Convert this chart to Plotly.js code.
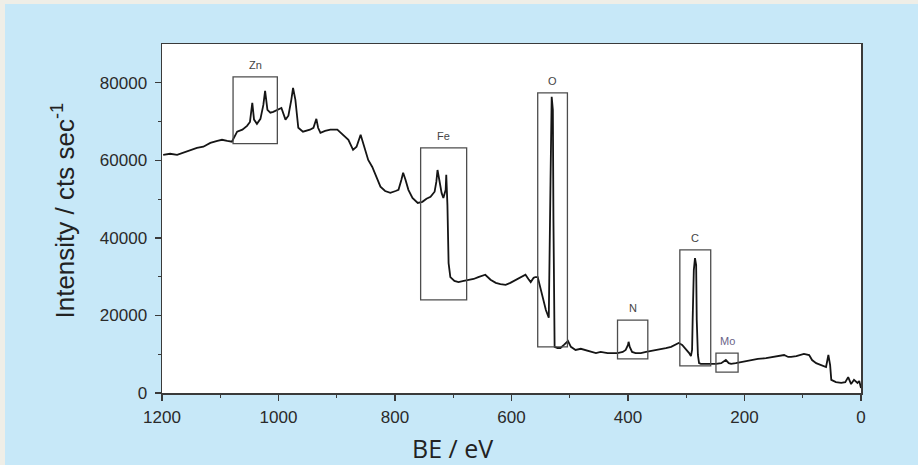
<!DOCTYPE html>
<html>
<head>
<meta charset="utf-8">
<script src="https://cdn.plot.ly/plotly-3.0.1.min.js"></script>
<style>
  html, body { margin: 0; padding: 0; background: #EFEEE7; width: 918px; height: 465px; overflow: hidden; }
  #chart { position: absolute; left: 5px; top: 4px; width: 913px; height: 461px; }
</style>
</head>
<body>
<div id="chart"></div>
<script>
// Binding energy (eV) and intensity (cts/sec)
const bindingEnergy = [
  1198, 1186, 1174, 1164, 1152, 1140, 1129, 1117, 1105, 1097, 1088, 1080, 1071, 1062, 1054, 1049,
  1045, 1042, 1037, 1031, 1026, 1023, 1019, 1014, 1009, 1001, 995, 988, 983, 978, 975, 971,
  966, 958, 946, 940, 935, 932, 928, 920, 911, 899, 889, 880, 872, 866, 859, 854,
  851, 846, 839, 832, 825, 817, 808, 799, 794, 789, 786, 782, 777, 770, 761, 753,
  746, 739, 732, 729, 727, 724, 720, 717, 713, 712, 710, 708, 705, 698, 691, 682,
  674, 665, 657, 650, 645, 636, 627, 619, 610, 602, 593, 584, 576, 571, 567, 562,
  559, 555, 550, 545, 541, 536, 534, 533, 531, 529, 528, 526, 521, 516, 510, 503,
  498, 490, 481, 473, 464, 455, 447, 435, 426, 418, 409, 404, 400, 399, 397, 393,
  387, 378, 369, 361, 352, 344, 335, 326, 318, 313, 307, 302, 295, 292, 290, 289,
  287, 285, 283, 282, 280, 278, 275, 266, 258, 249, 240, 235, 232, 227, 223, 215,
  206, 197, 189, 177, 163, 149, 141, 132, 125, 120, 111, 103, 98, 89, 84, 77,
  68, 60, 56, 53, 51, 43, 34, 27, 22, 17, 12, 6, 3, 0
];
const intensity = [
  61400, 61700, 61400, 61900, 62500, 63200, 63500, 64500, 65000, 65300, 65000, 64800, 67400, 67900, 68900, 69900,
  74800, 70500, 69400, 70700, 74300, 77900, 73000, 72300, 72500, 73000, 73500, 70500, 71500, 75600, 78700, 75600,
  68400, 67400, 67900, 68400, 70700, 68400, 67100, 67600, 67900, 67900, 66600, 65300, 62700, 63500, 66600, 64000,
  62200, 60100, 58300, 55500, 53200, 52100, 51600, 52100, 52400, 55000, 56800, 55000, 52400, 50300, 49000, 49300,
  50100, 50600, 51900, 54500, 57500, 55000, 51600, 50300, 52400, 56300, 48500, 33500, 29900, 28900, 28600, 28900,
  29200, 29400, 29900, 30200, 30500, 29200, 28400, 28100, 27900, 28400, 29200, 29900, 30500, 29400, 28600, 29700,
  29900, 29900, 26600, 23500, 21400, 19400, 36900, 55000, 76400, 73000, 44600, 11900, 11600, 11600, 12400, 13400,
  11900, 11100, 11400, 11100, 10600, 10300, 10600, 10300, 10300, 10300, 10600, 11100, 12400, 13200, 11900, 10600,
  10300, 10300, 10600, 10800, 11100, 11400, 11600, 11900, 12400, 12900, 12400, 11600, 10300, 9500, 11100, 18800,
  31700, 34800, 33000, 18800, 9800, 7700, 7500, 7500, 7500, 7500, 7700, 8300, 8500, 7700, 7500, 7700,
  8000, 8300, 8500, 8800, 9000, 9300, 9500, 9800, 9300, 9300, 9500, 9800, 10100, 9800, 8500, 7700,
  7200, 6700, 9800, 7200, 3400, 2800, 2600, 2800, 4100, 2300, 3400, 2600, 3100, 1300
];

// Highlighted element regions: BE span (eV) and intensity span (cts/sec)
const elements = ["Zn", "Fe", "O", "N", "C", "Mo"];
const regionBEHigh = [1078, 756, 555, 418, 311, 249];
const regionBELow  = [1002, 677, 504, 366, 258, 211];
const regionIntTop = [81500, 63200, 77400, 18800, 36900, 10300];
const regionIntBottom = [64300, 24000, 11900, 8800, 7000, 5400];
const labelColors = ["#444444", "#444444", "#444444", "#444444", "#444444", "#6a6488"];

const xTicks = [1200, 1000, 800, 600, 400, 200, 0];
const yTicks = [0, 20000, 40000, 60000, 80000];

const shapes = elements.map((e, i) => ({
  type: "rect", xref: "x", yref: "y",
  x0: regionBEHigh[i], x1: regionBELow[i], y0: regionIntBottom[i], y1: regionIntTop[i],
  line: { color: "#4d4d4d", width: 1.3 }, fillcolor: "rgba(0,0,0,0)", layer: "above"
}));

const annotations = elements.map((e, i) => ({
  x: (regionBEHigh[i] + regionBELow[i]) / 2, y: regionIntTop[i], xref: "x", yref: "y",
  text: e, showarrow: false, xanchor: "center", yanchor: "bottom", yshift: 4,
  font: { family: "Liberation Sans, Arial, sans-serif", size: 11, color: labelColors[i] }
}));

annotations.push({
  xref: "paper", yref: "paper", x: 0, y: 0.5, xshift: -98, yshift: 8,
  xanchor: "center", yanchor: "middle", textangle: -90, showarrow: false,
  text: "Intensity / cts sec<sup>-1</sup>",
  font: { family: "Liberation Sans, Arial, sans-serif", size: 26, color: "#222" }
});
annotations.push({
  xref: "paper", yref: "paper", x: 0.415, y: 0, yshift: -36,
  xanchor: "center", yanchor: "top", showarrow: false,
  text: "BE / eV",
  font: { family: "Open Sans, sans-serif", size: 25, color: "#222" }
});

const trace = {
  x: bindingEnergy, y: intensity, type: "scatter", mode: "lines",
  line: { color: "#151515", width: 1.8 }, hoverinfo: "skip"
};

const layout = {
  width: 913, height: 461,
  margin: { l: 157, r: 57, t: 40, b: 72 },
  paper_bgcolor: "#C7E8F8",
  plot_bgcolor: "#FFFFFF",
  showlegend: false,
  font: { family: "Liberation Sans, Arial, sans-serif", color: "#2a2a2a" },
  xaxis: {
    range: [1200, 0], autorange: false,
    tickmode: "array", tickvals: xTicks, ticktext: xTicks.map(String),
    ticks: "outside", ticklen: 6, tickwidth: 1.3, tickcolor: "#3a3a3a",
    minor: { tickmode: "array", tickvals: [1100, 900, 700, 500, 300, 100], ticks: "outside", ticklen: 3, tickcolor: "#3a3a3a", tickwidth: 1.2 },
    showline: true, linecolor: "#3a3a3a", linewidth: 1.5, mirror: true,
    showgrid: false, zeroline: false,
    tickfont: { size: 17, color: "#2a2a2a" }, ticklabelstandoff: 2
  },
  yaxis: {
    range: [0, 90000], autorange: false,
    tickmode: "array", tickvals: yTicks, ticktext: yTicks.map(String),
    ticks: "outside", ticklen: 6, tickwidth: 1.3, tickcolor: "#3a3a3a",
    minor: { tickmode: "array", tickvals: [10000, 30000, 50000, 70000], ticks: "outside", ticklen: 3, tickcolor: "#3a3a3a", tickwidth: 1.2 },
    showline: true, linecolor: "#3a3a3a", linewidth: 1.5, mirror: true,
    showgrid: false, zeroline: false,
    tickfont: { size: 17, color: "#2a2a2a" }, ticklabelstandoff: 4
  },
  shapes: shapes,
  annotations: annotations
};

Plotly.newPlot("chart", [trace], layout, { displayModeBar: false, staticPlot: true });
</script>
</body>
</html>
